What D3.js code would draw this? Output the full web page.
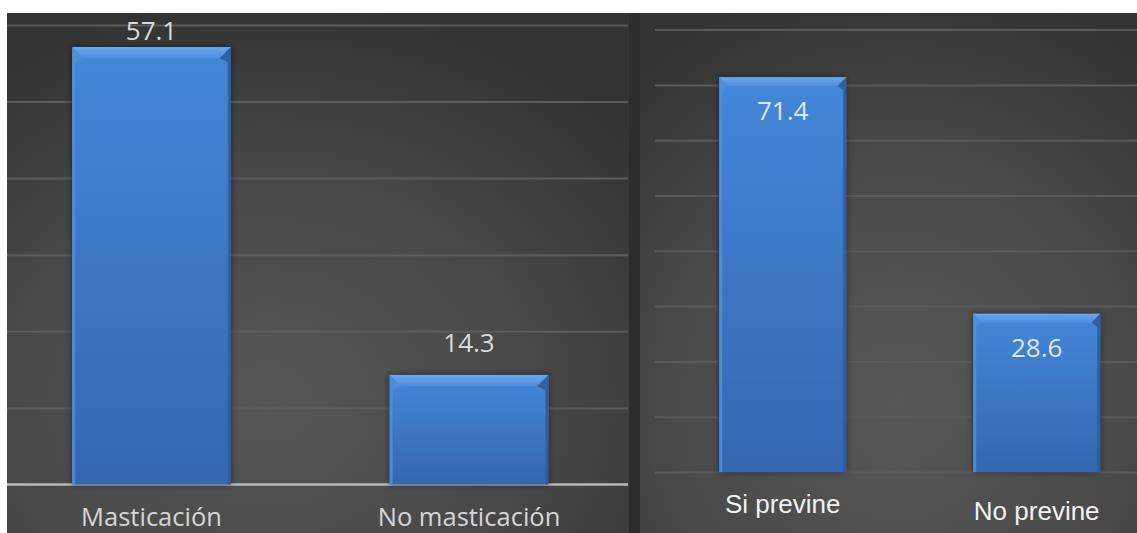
<!DOCTYPE html>
<html>
<head>
<meta charset="utf-8">
<script src="https://cdn.jsdelivr.net/npm/d3@7/dist/d3.min.js"></script>
<style>
  html, body { margin: 0; padding: 0; background: #ffffff; }
  svg { display: block; }
</style>
</head>
<body>
<svg id="chart" width="1137" height="533"></svg>
<script>
// Panel 1: chewing
const chewCategories = ["Masticación", "No masticación"];
const chewValues = [57.1, 14.3];
const chewTicks = [0, 10, 20, 30, 40, 50, 60];

// Panel 2: prevention
const preventCategories = ["Si previne", "No previne"];
const preventValues = [71.4, 28.6];
const preventTicks = [0, 10, 20, 30, 40, 50, 60, 70, 80];

const svg = d3.select("#chart");
const defs = svg.append("defs");

// backdrop behind both panels
svg.append("rect").attr("x", 7).attr("y", 13).attr("width", 1130).attr("height", 520).attr("fill", "#2d2d2d");

function radial(id, cx, cy, r, stops) {
  const g = defs.append("radialGradient").attr("id", id)
    .attr("cx", cx).attr("cy", cy).attr("r", r);
  stops.forEach(([o, c]) => g.append("stop").attr("offset", o).attr("stop-color", c));
}
radial("bgLeft", "42%", "75%", "78%", [["0%", "#565656"], ["55%", "#484848"], ["100%", "#333333"]]);
radial("bgRight", "52%", "75%", "82%", [["0%", "#575757"], ["55%", "#4a4a4a"], ["100%", "#343434"]]);

const barGrad = defs.append("linearGradient").attr("id", "barFill").attr("x1", 0).attr("y1", 0).attr("x2", 0).attr("y2", 1);
barGrad.append("stop").attr("offset", "0%").attr("stop-color", "#4487d8");
barGrad.append("stop").attr("offset", "100%").attr("stop-color", "#3467b0");

const bevelGrad = defs.append("linearGradient").attr("id", "bevelTop").attr("x1", 0).attr("y1", 0).attr("x2", 0).attr("y2", 1);
bevelGrad.append("stop").attr("offset", "0%").attr("stop-color", "#6aa6ee");
bevelGrad.append("stop").attr("offset", "100%").attr("stop-color", "#4d90e0");

const shadow = defs.append("filter").attr("id", "barShadow").attr("x", "-20%").attr("y", "-20%").attr("width", "140%").attr("height", "140%");
shadow.append("feDropShadow").attr("dx", 0).attr("dy", 0).attr("stdDeviation", 3)
  .attr("flood-color", "#000").attr("flood-opacity", 0.5);

function drawPanel(opts) {
  const g = svg.append("g");
  const clipId = opts.id + "Clip";
  defs.append("clipPath").attr("id", clipId).append("rect")
    .attr("x", opts.left).attr("y", opts.top)
    .attr("width", opts.right - opts.left).attr("height", opts.bottom - opts.top);
  const body = g.append("g").attr("clip-path", `url(#${clipId})`);

  body.append("rect")
    .attr("x", opts.left).attr("y", opts.top)
    .attr("width", opts.right - opts.left).attr("height", opts.bottom - opts.top)
    .attr("fill", `url(#${opts.bg})`);

  const x = d3.scaleBand().domain(opts.categories).range(opts.xRange)
    .paddingInner(0.5).paddingOuter(0.25);
  const y = d3.scaleLinear().domain(opts.yDomain).range(opts.yRange);

  // horizontal gridlines
  const grid = body.append("g")
    .attr("transform", `translate(${opts.gridLeft},0)`)
    .call(d3.axisLeft(y).tickValues(opts.ticks).tickSize(-(opts.gridRight - opts.gridLeft)).tickFormat(""));
  grid.select(".domain").remove();
  grid.selectAll(".tick line").attr("stroke", opts.gridColor).attr("stroke-width", 2);

  if (opts.baseline) {
    body.append("line")
      .attr("x1", opts.gridLeft).attr("x2", opts.gridRight)
      .attr("y1", y(0)).attr("y2", y(0))
      .attr("stroke", "#b9b9b9").attr("stroke-width", 2.5);
  }

  const values = opts.categories.map((c, i) => ({ c, v: opts.values[i] }));
  const bw = x.bandwidth();
  const bevel = bw * 0.07;
  const side = 3;

  const bars = body.selectAll("g.bar").data(values).join("g").attr("class", "bar");
  bars.append("rect")
    .attr("x", d => x(d.c)).attr("y", d => y(d.v))
    .attr("width", bw).attr("height", d => y(0) - y(d.v))
    .attr("fill", "url(#barFill)")
    .attr("filter", "url(#barShadow)");
  // bevelled top edge
  bars.append("polygon")
    .attr("points", d => {
      const x0 = x(d.c), x1 = x0 + bw, y0 = y(d.v);
      return [[x0, y0], [x1, y0], [x1 - bevel, y0 + bevel], [x0 + bevel, y0 + bevel]].join(" ");
    })
    .attr("fill", "url(#bevelTop)");
  // lit left edge
  bars.append("polygon")
    .attr("points", d => {
      const x0 = x(d.c), y0 = y(d.v), yb = y(0);
      return [[x0, y0], [x0 + bevel, y0 + bevel], [x0 + side, y0 + bevel + 4], [x0 + side, yb], [x0, yb]].join(" ");
    })
    .attr("fill", "#4c8fdc").attr("opacity", 0.9);
  // shaded right edge
  bars.append("polygon")
    .attr("points", d => {
      const x1 = x(d.c) + bw, y0 = y(d.v), yb = y(0);
      return [[x1, y0], [x1 - bevel, y0 + bevel], [x1 - side, y0 + bevel + 4], [x1 - side, yb], [x1, yb]].join(" ");
    })
    .attr("fill", "#2c5c9e").attr("opacity", 0.9);

  // value labels
  g.selectAll("text.value").data(values).join("text")
    .attr("class", "value")
    .attr("x", d => x(d.c) + bw / 2)
    .attr("y", d => opts.labelY(y(d.v)))
    .attr("text-anchor", "middle")
    .attr("font-family", "'Open Sans', sans-serif")
    .attr("font-size", 26)
    .attr("fill", opts.valueColor)
    .text(d => d.v.toFixed(1));

  // category labels
  const axis = g.append("g")
    .attr("transform", `translate(0,${opts.catY})`)
    .call(d3.axisBottom(x).tickSize(0).tickPadding(0));
  axis.select(".domain").remove();
  axis.selectAll(".tick text")
    .attr("y", (d, i) => opts.catNudge[i])
    .attr("dy", 0)
    .attr("font-family", opts.catFont)
    .attr("font-size", opts.catSize)
    .attr("fill", opts.catColor);
}

drawPanel({
  id: "chew",
  left: 7, right: 629, top: 13, bottom: 533,
  gridLeft: 7, gridRight: 628,
  bg: "bgLeft",
  categories: chewCategories, values: chewValues, ticks: chewTicks.slice(1),
  xRange: [-7.25, 627.75],
  yDomain: [0, 60], yRange: [484.5, 24.9],
  gridColor: "#5c5c5c",
  baseline: true,
  // keep the label inside the panel when the bar reaches the top
  labelY: top => Math.max(top - 23, 40),
  valueColor: "#dadada",
  catY: 526, catNudge: [0, 0],
  catFont: "'Open Sans', sans-serif",
  catSize: 25.5,
  catColor: "#d6d6d6"
});

drawPanel({
  id: "prevent",
  left: 640, right: 1137, top: 13, bottom: 533,
  gridLeft: 655, gridRight: 1137,
  bg: "bgRight",
  categories: preventCategories, values: preventValues, ticks: preventTicks,
  xRange: [655.7, 1163.7],
  yDomain: [0, 80], yRange: [472, 29.6],
  gridColor: "#5a5a5a",
  baseline: false,
  labelY: top => top + 43,
  valueColor: "#dfe7f2",
  catY: 513, catNudge: [0, 7],
  catFont: "'Liberation Sans', Arial, sans-serif",
  catSize: 26,
  catColor: "#f2f2f2"
});
</script>
</body>
</html>
